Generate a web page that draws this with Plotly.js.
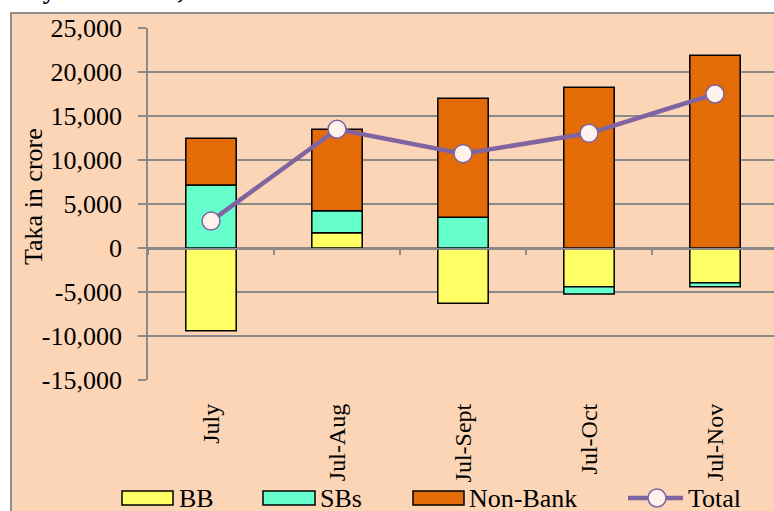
<!DOCTYPE html>
<html>
<head>
<meta charset="utf-8">
<script src="https://cdn.plot.ly/plotly-3.0.1.min.js"></script>
<style>
html,body{margin:0;padding:0;overflow:hidden;background:#fff;}
#chart{width:780px;height:511px;}
</style>
</head>
<body>
<div id="chart"></div>
<script>
// ---- data ----
const categories = ["July", "Jul-Aug", "Jul-Sept", "Jul-Oct", "Jul-Nov"];
const bbValues = [-9400, 1740, -6290, -4400, -3950];
const sbsValues = [7160, 2500, 3490, -830, -450];
const nonBankValues = [5300, 9250, 13520, 18260, 21900];
const totalValues = [3060, 13490, 10720, 13030, 17500];
const seriesNames = ["BB", "SBs", "Non-Bank", "Total"];
const yTickVals = [-15000, -10000, -5000, 0, 5000, 10000, 15000, 20000, 25000];
const yTickText = ["-15,000", "-10,000", "-5,000", "0", "5,000", "10,000", "15,000", "20,000", "25,000"];
const chartTitle = "July-November, FY18";
const yTitle = "Taka in crore";

// ---- styling ----
const FONT = "Liberation Serif, Times New Roman, serif";
const colBB = "#FFFF66", colSB = "#66FFCC", colNB = "#E36C09", colTot = "#8064A2";
const markerFill = "#FEF2EA";
const gridCol = "#8a8a8a";

const W = 780, H = 511, ML = 148, MR = 2, MT = 28, MB = 131;
const PW = W - ML - MR, PH = H - MT - MB;
const px = x => (x - ML) / PW;
const py = y => (H - MB - y) / PH;

const barLine = {color: "#000", width: 1.5};
const traces = [
  {type: "bar", name: seriesNames[0], x: categories, y: bbValues, marker: {color: colBB, line: barLine}, width: 0.4, hoverinfo: "y"},
  {type: "bar", name: seriesNames[1], x: categories, y: sbsValues, marker: {color: colSB, line: barLine}, width: 0.4, hoverinfo: "y"},
  {type: "bar", name: seriesNames[2], x: categories, y: nonBankValues, marker: {color: colNB, line: barLine}, width: 0.4, hoverinfo: "y"},
  {type: "scatter", mode: "lines+markers", name: seriesNames[3], x: categories, y: totalValues,
   line: {color: colTot, width: 4.5}, marker: {symbol: "circle", size: 18, color: markerFill, line: {color: colTot, width: 1.5}}},
  // carrier for the zero-line category axis (ticks at boundaries)
  {type: "scatter", mode: "markers", x: categories, y: totalValues, xaxis: "x2", yaxis: "y",
   marker: {opacity: 0}, hoverinfo: "skip", showlegend: false}
];

const shapes = [
  // outer chart box
  {type: "rect", xref: "paper", yref: "paper", x0: px(11), x1: px(900), y0: py(900), y1: py(13),
   fillcolor: "#FBD5B5", line: {color: "#8c8c8c", width: 2}, layer: "below"}
];
const annotations = [
  {text: "<b>" + chartTitle + "</b>", xref: "paper", yref: "paper", x: px(6), y: py(7), xanchor: "left", yanchor: "bottom",
   showarrow: false, font: {family: FONT, size: 26, color: "#000"}},
  {text: yTitle, xref: "paper", yref: "paper", x: px(33), y: py(197), xanchor: "center", yanchor: "middle", textangle: -90,
   showarrow: false, font: {family: FONT, size: 26, color: "#000"}}
];

// custom legend
const legendRects = [[122, 173, colBB], [263, 315, colSB], [413, 464, colNB]];
const legendTextX = [178, 319, 468, 687];
legendRects.forEach(r => {
  shapes.push({type: "rect", xref: "paper", yref: "paper", x0: px(r[0]), x1: px(r[1]), y0: py(505), y1: py(491),
    fillcolor: r[2], line: {color: "#000", width: 1.5}});
});
shapes.push({type: "line", xref: "paper", yref: "paper", x0: px(628), x1: px(683), y0: py(498), y1: py(498),
  line: {color: colTot, width: 4.5}});
shapes.push({type: "circle", xref: "paper", yref: "paper", x0: px(648), x1: px(666), y0: py(507), y1: py(489),
  fillcolor: markerFill, line: {color: colTot, width: 1.5}});
seriesNames.forEach((n, i) => {
  annotations.push({text: n, xref: "paper", yref: "paper", x: px(legendTextX[i]), y: py(498), xanchor: "left", yanchor: "middle",
    height: 24, valign: "middle", borderpad: 0,
    showarrow: false, font: {family: FONT, size: 26, color: "#000"}});
});

const layout = {
  width: W, height: H,
  margin: {l: ML, r: MR, t: MT, b: MB, pad: 0},
  paper_bgcolor: "#ffffff",
  plot_bgcolor: "#FDEADA",
  barmode: "relative",
  showlegend: false,
  font: {family: FONT, size: 26, color: "#000"},
  xaxis: {
    type: "category", categoryorder: "array", categoryarray: categories, range: [-0.5, 4.5],
    tickangle: -90, ticks: "", showgrid: false, showline: false, zeroline: false,
    tickfont: {family: FONT, size: 24, color: "#000"}, ticklabelstandoff: 18, fixedrange: true
  },
  xaxis2: {
    type: "category", categoryorder: "array", categoryarray: categories, range: [-0.5, 4.5],
    overlaying: "x", anchor: "free", position: py(248),
    ticks: "outside", ticklen: 5, tickwidth: 1.5, tickcolor: gridCol, tickson: "boundaries",
    showticklabels: false, showgrid: false, showline: true, linecolor: gridCol, linewidth: 1.8, zeroline: false
  },
  yaxis: {
    range: [-15000, 25000], tickvals: yTickVals, ticktext: yTickText,
    ticks: "outside", ticklen: 8, tickwidth: 1.5, tickcolor: gridCol,
    showgrid: true, gridcolor: gridCol, gridwidth: 1.8,
    showline: true, linecolor: gridCol, linewidth: 1.8, zeroline: false,
    tickfont: {family: FONT, size: 26, color: "#000"}, ticklabelstandoff: 11
  },
  shapes: shapes,
  annotations: annotations
};

Plotly.newPlot("chart", traces, layout, {displayModeBar: false, staticPlot: true});
</script>
</body>
</html>
